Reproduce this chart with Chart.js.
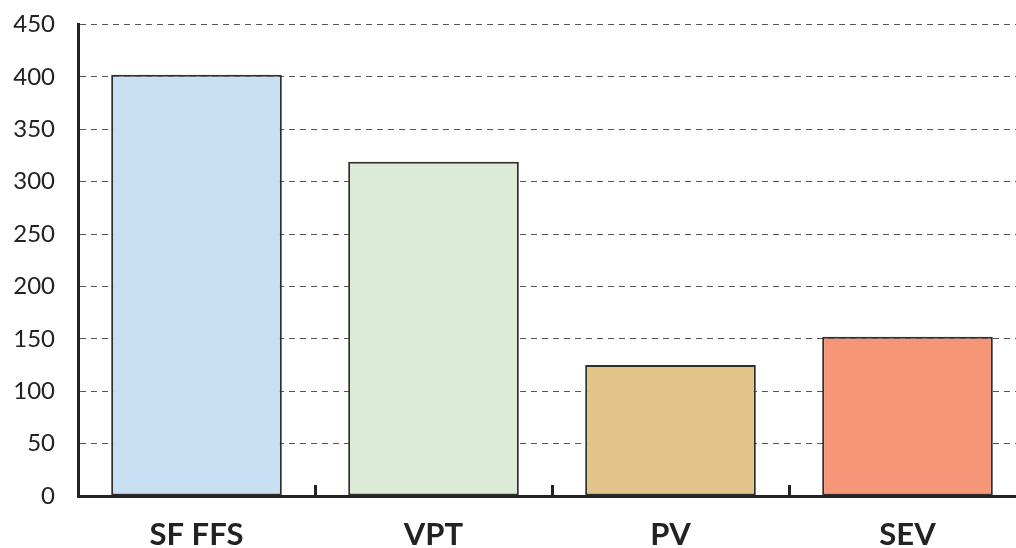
<!DOCTYPE html>
<html>
<head>
<meta charset="utf-8">
<script src="https://cdn.jsdelivr.net/npm/chart.js@4/dist/chart.umd.min.js"></script>
<style>
html,body{margin:0;padding:0;overflow:hidden;background:#fff;width:1016px;height:548px;}
canvas{display:block;}
</style>
</head>
<body>
<canvas id="c" width="1026" height="548"></canvas>
<script>
const categories = ["SF FFS", "VPT", "PV", "SEV"];
const values = [402, 319, 125, 152];
const barColors = ["#c9dff2", "#dbebd5", "#e2c48a", "#f59777"];
const yTicks = [0, 50, 100, 150, 200, 250, 300, 350, 400, 450];

const innerTicks = {
  id: 'innerTicks',
  afterDatasetsDraw(chart) {
    const x = chart.scales.x, y = chart.scales.y, ctx = chart.ctx;
    ctx.save();
    ctx.strokeStyle = '#222';
    ctx.lineWidth = 3;
    for (let i = 0; i < categories.length - 1; i++) {
      const px = Math.round((x.getPixelForValue(i) + x.getPixelForValue(i + 1)) / 2) + 0.5;
      ctx.beginPath();
      ctx.moveTo(px, y.bottom);
      ctx.lineTo(px, y.bottom - 11);
      ctx.stroke();
    }
    ctx.restore();
  }
};

new Chart(document.getElementById('c'), {
  type: 'bar',
  data: {
    labels: categories,
    datasets: [{
      data: values,
      backgroundColor: barColors,
      borderColor: '#2f2f2f',
      borderWidth: 2,
      borderSkipped: false,
      categoryPercentage: 1,
      barPercentage: 0.72
    }]
  },
  options: {
    responsive: false,
    animation: false,
    layout: { padding: { top: 0, left: 0, right: 0, bottom: 0 } },
    plugins: { legend: { display: false }, tooltip: { enabled: false } },
    scales: {
      x: {
        grid: { display: false, drawTicks: false },
        border: { display: true, color: '#222', width: 3 },
        ticks: {
          color: '#222',
          font: { family: 'Lato', size: 31, weight: 'bold', lineHeight: 0.8 },
          padding: 27
        },
        afterFit(s) { s.height = 52; }
      },
      y: {
        min: 0,
        max: 450,
        afterBuildTicks(s) { s.ticks = yTicks.map(v => ({ value: v })); },
        grid: {
          color: '#555',
          lineWidth: 1,
          drawTicks: true,
          tickLength: 13,
          tickColor: 'rgba(0,0,0,0)'
        },
        border: { display: true, color: '#222', width: 3, dash: [6, 5] },
        ticks: {
          color: '#222',
          font: { family: 'Lato', size: 24 },
          padding: 10
        },
        afterFit(s) { s.width = 78; }
      }
    }
  },
  plugins: [innerTicks]
});
</script>
</body>
</html>
